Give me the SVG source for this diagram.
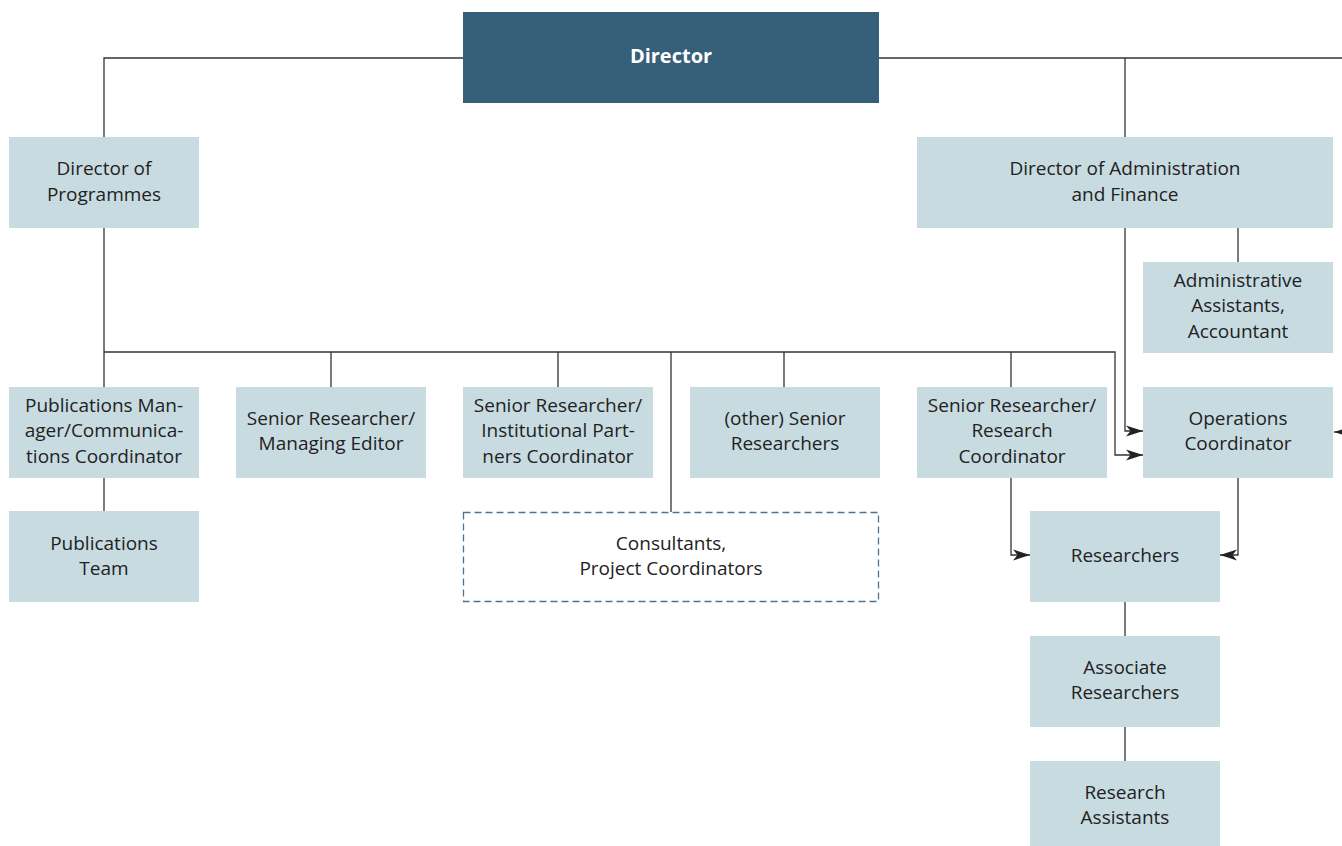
<svg xmlns="http://www.w3.org/2000/svg" width="1342" height="846" viewBox="0 0 1342 846">
<style>
.box{fill:#c8dbe1}
.t{font-family:"Open Sans","Noto Sans",sans-serif;font-size:19px;fill:#222;text-anchor:middle}
.w{font-family:"Open Sans","Noto Sans",sans-serif;font-size:20px;font-weight:bold;fill:#fff;text-anchor:middle}
.c{fill:none;stroke:#333;stroke-width:1.3}
.a{marker-end:url(#arr)}
</style>
<defs>
<marker id="arr" markerUnits="userSpaceOnUse" markerWidth="18" markerHeight="14" refX="17" refY="7" orient="auto">
<path d="M0,1.5 L17,7 L0,12.5 L4.5,7 z" fill="#222"/>
</marker>
</defs>
<rect width="1342" height="846" fill="#fff"/>
<g id="connectors">
<path class="c" d="M463,58 H104 V137"/>
<path class="c" d="M879,58 H1342"/>
<path class="c" d="M1125,58 V137"/>
<path class="c" d="M1238,228 V262"/>
<path class="c a" d="M1125,228 V431 H1143"/>
<path class="c" d="M104,228 V387"/>
<path class="c a" d="M104,352 H1115 V455 H1143"/>
<path class="c" d="M331,352 V387 M558,352 V387 M671,352 V512 M784,352 V387 M1011,352 V387"/>
<path class="c a" d="M1360,432 H1334"/>
<path class="c" d="M104,478 V511"/>
<path class="c a" d="M1011,478 V555 H1030"/>
<path class="c a" d="M1238,478 V555 H1220"/>
<path class="c" d="M1125,602 V636 M1125,727 V761"/>
</g>
<g id="director">
<rect x="463" y="12" width="416" height="91" fill="#365f7a"/>
<text class="w" x="671" y="63">Director</text>
</g>
<g id="dir-programmes">
<rect class="box" x="9" y="137" width="190" height="91"/>
<text class="t" x="104" y="175">Director of</text>
<text class="t" x="104" y="201">Programmes</text>
</g>
<g id="dir-admin">
<rect class="box" x="917" y="137" width="416" height="91"/>
<text class="t" x="1125" y="175">Director of Administration</text>
<text class="t" x="1125" y="201">and Finance</text>
</g>
<g id="admin-assistants">
<rect class="box" x="1143" y="262" width="190" height="91"/>
<text class="t" x="1238" y="287">Administrative</text>
<text class="t" x="1238" y="312">Assistants,</text>
<text class="t" x="1238" y="338">Accountant</text>
</g>
<g id="publications-manager">
<rect class="box" x="9" y="387" width="190" height="91"/>
<text class="t" x="104" y="412">Publications Man-</text>
<text class="t" x="104" y="437">ager/Communica-</text>
<text class="t" x="104" y="463">tions Coordinator</text>
</g>
<g id="managing-editor">
<rect class="box" x="236" y="387" width="190" height="91"/>
<text class="t" x="331" y="425">Senior Researcher/</text>
<text class="t" x="331" y="450">Managing Editor</text>
</g>
<g id="institutional-partners">
<rect class="box" x="463" y="387" width="190" height="91"/>
<text class="t" x="558" y="412">Senior Researcher/</text>
<text class="t" x="558" y="437">Institutional Part-</text>
<text class="t" x="558" y="463">ners Coordinator</text>
</g>
<g id="other-senior">
<rect class="box" x="690" y="387" width="190" height="91"/>
<text class="t" x="785" y="425">(other) Senior</text>
<text class="t" x="785" y="450">Researchers</text>
</g>
<g id="research-coordinator">
<rect class="box" x="917" y="387" width="190" height="91"/>
<text class="t" x="1012" y="412">Senior Researcher/</text>
<text class="t" x="1012" y="437">Research</text>
<text class="t" x="1012" y="463">Coordinator</text>
</g>
<g id="operations-coordinator">
<rect class="box" x="1143" y="387" width="190" height="91"/>
<text class="t" x="1238" y="425">Operations</text>
<text class="t" x="1238" y="450">Coordinator</text>
</g>
<g id="publications-team">
<rect class="box" x="9" y="511" width="190" height="91"/>
<text class="t" x="104" y="550">Publications</text>
<text class="t" x="104" y="575">Team</text>
</g>
<g id="consultants">
<rect x="463.5" y="512.5" width="415" height="89" fill="none" stroke="#4d7390" stroke-width="1.3" stroke-dasharray="7,4"/>
<text class="t" x="671" y="550">Consultants,</text>
<text class="t" x="671" y="575">Project Coordinators</text>
</g>
<g id="researchers">
<rect class="box" x="1030" y="511" width="190" height="91"/>
<text class="t" x="1125" y="562">Researchers</text>
</g>
<g id="associate-researchers">
<rect class="box" x="1030" y="636" width="190" height="91"/>
<text class="t" x="1125" y="674">Associate</text>
<text class="t" x="1125" y="699">Researchers</text>
</g>
<g id="research-assistants">
<rect class="box" x="1030" y="761" width="190" height="85"/>
<text class="t" x="1125" y="799">Research</text>
<text class="t" x="1125" y="824">Assistants</text>
</g>
</svg>
